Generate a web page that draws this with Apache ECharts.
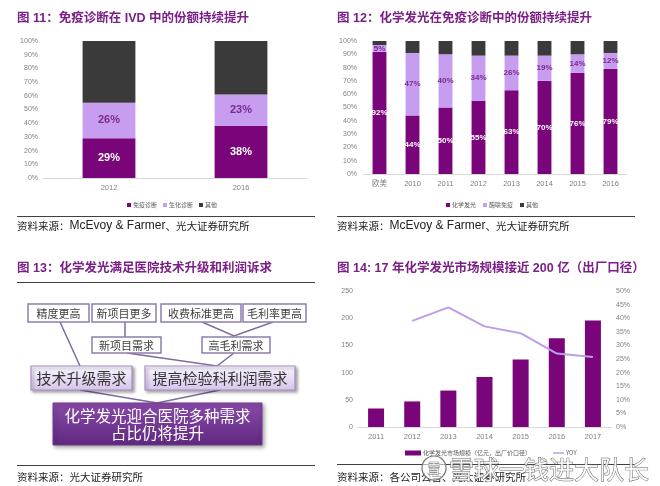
<!DOCTYPE html>
<html><head><meta charset="utf-8">
<script src="https://cdn.jsdelivr.net/npm/echarts@6/dist/echarts.min.js"></script>
<style>html,body{margin:0;padding:0;background:#fff}#c{width:660px;height:486px}</style>
</head><body><div id="c"></div>
<script>
// ---------- data ----------
const titles = ['图 11：免疫诊断在 IVD 中的份额持续提升', '图 12：化学发光在免疫诊断中的份额持续提升', '图 13：化学发光满足医院技术升级和利润诉求', '图 14: 17 年化学发光市场规模接近 200 亿（出厂口径）'];
const p11Categories = ['2012', '2016'];
const p11Names = ['免疫诊断', '生化诊断', '其他'];
const p11Immuno = [29, 38];
const p11Bio = [26, 23];
const p11Other = [45, 39];

const p12Categories = ['欧美', '2010', '2011', '2012', '2013', '2014', '2015', '2016'];
const p12Names = ['化学发光', '酶联免疫', '其他'];
const p12Chemi = [92, 44, 50, 55, 63, 70, 76, 79];
const p12Elisa = [5, 47, 40, 34, 26, 19, 14, 12];
const p12Other = [3, 9, 10, 11, 11, 11, 10, 9];

const p14Years = ['2011', '2012', '2013', '2014', '2015', '2016', '2017'];
const p14BarName = '化学发光市场规模（亿元，出厂价口径）';
const p14LineName = 'YOY';
const p14Size = [34, 47, 67, 92, 124, 163, 196];
const p14Yoy = [null, 39, 44, 37, 34.5, 27, 25.7];

const diagRow1 = ['精度更高', '新项目更多', '收费标准更高', '毛利率更高'];
const diagRow2 = ['新项目需求', '高毛利需求'];
const diagRow3 = ['技术升级需求', '提高检验科利润需求'];
const diagRow4 = ['化学发光迎合医院多种需求', '占比仍将提升'];

const sourceA = ['资料来源：', 'McEvoy & Farmer', '、光大证券研究所'];
const sourceB = '资料来源：光大证券研究所';
const sourceC = '资料来源：各公司公告、光大证券研究所';
const watermark = '雪球一钱进大队长';

// ---------- style ----------
const CN = '"Noto Sans CJK SC", sans-serif';
const LAT = '"Liberation Sans", "Noto Sans CJK SC", sans-serif';
const DARK = '#7A0479';
const LIGHT = '#C79DF0';
const GRAY = '#3A3A3A';
const TITLE = '#7A1F86';
const AX = '#808080';

const chart = echarts.init(document.getElementById('c'), null, {renderer: 'canvas'});

function catAxis(gi, data) {
  return {type: 'category', gridIndex: gi, data: data,
    axisLine: {lineStyle: {color: '#D9D9D9'}}, axisTick: {show: false},
    axisLabel: {color: AX, fontSize: 7.5, margin: 6, fontFamily: LAT}};
}
function pctAxis(gi, margin) {
  return {type: 'value', gridIndex: gi, min: 0, max: 100, interval: 10,
    axisLabel: {formatter: '{value}%', color: AX, fontSize: 7, margin: margin, fontFamily: LAT},
    axisLine: {show: false}, axisTick: {show: false}, splitLine: {show: false}};
}
const lblW = (fs) => ({show: true, position: 'inside', formatter: '{c}%', color: '#fff', fontWeight: 'bold', fontSize: fs, fontFamily: LAT});
const lblP = (fs) => ({show: true, position: 'inside', formatter: '{c}%', color: '#7A2A90', fontWeight: 'bold', fontSize: fs, fontFamily: LAT});

const legText = {fontSize: 6, color: '#595959', fontFamily: CN, padding: [0, 0, 0, -3]};

// ---------- graphics ----------
const g = [];
function text(x, y, t, font, fill, align) {
  g.push({type: 'text', x: x, y: y, style: {text: t, font: font, fill: fill, textAlign: align || 'left', textVerticalAlign: 'middle'}});
}
function hline(x1, x2, y, color) {
  g.push({type: 'line', shape: {x1: x1, y1: y, x2: x2, y2: y}, style: {stroke: color || '#404040', lineWidth: 1}});
}
// titles
text(17, 19, titles[0], 'bold 12.5px ' + LAT, TITLE);
text(337, 19, titles[1], 'bold 12.5px ' + LAT, TITLE);
text(17, 269, titles[2], 'bold 12.5px ' + LAT, TITLE);
text(337, 269, titles[3], 'bold 12.5px ' + LAT, TITLE);
// separators
hline(17, 315, 216.5);
hline(337, 635, 216.5);
hline(17, 315, 282.5);
hline(17, 315, 465.5);
hline(337, 635, 464.5);
// sources
function richSource(x, y) {
  g.push({type: 'text', x: x, y: y, style: {
    text: '{c|' + sourceA[0] + '}{e|' + sourceA[1] + '}{c|' + sourceA[2] + '}',
    textVerticalAlign: 'middle',
    rich: {c: {fontSize: 10.5, fontFamily: CN, fill: '#222'}, e: {fontSize: 12, fontFamily: LAT, fill: '#222'}}
  }});
}
richSource(17, 226);
richSource(337, 226);
text(17, 477, sourceB, '10.5px ' + CN, '#222');
text(337, 477, sourceC, '10.5px ' + CN, '#222');

// diagram (layout of boxes)
const lineCol = '#7E6B9C';
function seg(pts) {
  g.push({type: 'polyline', shape: {points: pts}, style: {stroke: lineCol, lineWidth: 1.5, fill: null}});
}
seg([[60, 322], [80, 366]]);
seg([[125, 322], [125, 337]]);
seg([[202, 322], [234, 336], [273, 322]]);
seg([[127, 353], [217, 366], [234, 353]]);
seg([[80, 390], [157, 403], [220, 390]]);

function box(x, y, w, h, t, opt) {
  g.push({type: 'rect', shape: {x: x, y: y, width: w, height: h},
    style: {fill: opt.fill, stroke: opt.stroke, lineWidth: opt.lw || 1.5,
      shadowBlur: opt.shadow || 0, shadowColor: 'rgba(0,0,0,0.35)', shadowOffsetX: opt.shadow ? 2 : 0, shadowOffsetY: opt.shadow ? 2 : 0}});
  g.push({type: 'text', x: x + w / 2, y: y + h / 2 + 0.5, style: {text: t, font: opt.font, fill: opt.color, textAlign: 'center', textVerticalAlign: 'middle', lineHeight: opt.lh}});
}
const r1x = [28, 92, 161, 243], r1w = [61, 64, 80, 63];
diagRow1.forEach((t, i) => box(r1x[i], 304, r1w[i], 18, t, {fill: '#fff', stroke: '#8F7DAE', font: '11px ' + CN, color: '#404040'}));
const r2x = [92, 202], r2w = [69, 68];
diagRow2.forEach((t, i) => box(r2x[i], 337, r2w[i], 16, t, {fill: '#fff', stroke: '#8F7DAE', font: '11px ' + CN, color: '#404040'}));
const r3x = [31, 145], r3w = [101, 150];
const r3fill = new echarts.graphic.LinearGradient(0, 0, 0, 1, [{offset: 0, color: '#FBF8FE'}, {offset: 1, color: '#D6C3EC'}]);
diagRow3.forEach((t, i) => box(r3x[i], 366, r3w[i], 24, t, {fill: r3fill, stroke: '#A68FC8', lw: 1.2, font: '15px ' + CN, color: '#333', shadow: 3}));
const r4fill = new echarts.graphic.LinearGradient(0, 0, 0, 1, [{offset: 0, color: '#8A4BAA'}, {offset: 1, color: '#5F287F'}]);
box(53, 403, 209, 42, diagRow4.join('\n'), {fill: r4fill, stroke: '#6E3A8E', lw: 1, font: '15.5px ' + CN, color: '#fff', lh: 17, shadow: 4});

// watermark
g.push({type: 'circle', shape: {cx: 434, cy: 468, r: 12}, style: {fill: 'rgba(255,255,255,0.6)', stroke: '#777', lineWidth: 1.2}});
g.push({type: 'text', x: 434, y: 468, style: {text: '雪', font: '13px ' + CN, fill: '#fff', stroke: '#777', lineWidth: 0.8, textAlign: 'center', textVerticalAlign: 'middle'}});
g.push({type: 'text', x: 449, y: 469, style: {text: watermark, font: '25px ' + CN, fill: 'rgba(255,255,255,0.85)', stroke: '#666', lineWidth: 0.9, textVerticalAlign: 'middle'}});

const option = {
  animation: false,
  backgroundColor: '#fff',
  textStyle: {fontFamily: LAT},
  grid: [
    {left: 43, top: 41, width: 264, height: 137},
    {left: 363, top: 41, width: 264, height: 133},
    {left: 358, top: 291, width: 253, height: 136}
  ],
  xAxis: [catAxis(0, p11Categories), catAxis(1, p12Categories), catAxis(2, p14Years)],
  yAxis: [
    pctAxis(0, 5), pctAxis(1, 6),
    {type: 'value', gridIndex: 2, min: 0, max: 250, interval: 50,
      axisLabel: {color: AX, fontSize: 7, margin: 5, fontFamily: LAT},
      axisLine: {show: false}, axisTick: {show: false}, splitLine: {show: false}},
    {type: 'value', gridIndex: 2, position: 'right', min: 0, max: 50, interval: 5,
      axisLabel: {formatter: '{value}%', color: AX, fontSize: 7, margin: 5, fontFamily: LAT},
      axisLine: {show: false}, axisTick: {show: false}, splitLine: {show: false}}
  ],
  legend: [
    {data: p11Names, left: 122, top: 197, icon: 'rect', itemWidth: 4, itemHeight: 4, itemGap: 6, textStyle: legText, selectedMode: false},
    {data: p12Names, left: 441, top: 197, icon: 'rect', itemWidth: 4, itemHeight: 4, itemGap: 7, textStyle: legText, selectedMode: false},
    {data: [p14BarName], left: 400, top: 445, icon: 'rect', itemWidth: 16, itemHeight: 5, textStyle: legText, selectedMode: false},
    {data: [p14LineName], left: 548, top: 445, icon: 'rect', itemWidth: 11, itemHeight: 1.5, textStyle: legText, selectedMode: false}
  ],
  series: [
    {type: 'bar', name: p11Names[0], xAxisIndex: 0, yAxisIndex: 0, stack: 'p11', barWidth: '40%', data: p11Immuno, itemStyle: {color: DARK}, label: lblW(11)},
    {type: 'bar', name: p11Names[1], xAxisIndex: 0, yAxisIndex: 0, stack: 'p11', data: p11Bio, itemStyle: {color: LIGHT}, label: lblP(11)},
    {type: 'bar', name: p11Names[2], xAxisIndex: 0, yAxisIndex: 0, stack: 'p11', data: p11Other, itemStyle: {color: GRAY}},
    {type: 'bar', name: p12Names[0], xAxisIndex: 1, yAxisIndex: 1, stack: 'p12', barWidth: '42%', data: p12Chemi, itemStyle: {color: DARK}, label: lblW(8)},
    {type: 'bar', name: p12Names[1], xAxisIndex: 1, yAxisIndex: 1, stack: 'p12', data: p12Elisa, itemStyle: {color: LIGHT}, label: lblP(8)},
    {type: 'bar', name: p12Names[2], xAxisIndex: 1, yAxisIndex: 1, stack: 'p12', data: p12Other, itemStyle: {color: GRAY}},
    {type: 'bar', name: p14BarName, xAxisIndex: 2, yAxisIndex: 2, barWidth: 16, data: p14Size, itemStyle: {color: DARK}},
    {type: 'line', name: p14LineName, xAxisIndex: 2, yAxisIndex: 3, data: p14Yoy, symbol: 'none', lineStyle: {color: '#BC9EE8', width: 2}, itemStyle: {color: '#BC9EE8'}}
  ],
  graphic: {elements: g}
};
chart.setOption(option);
</script>
</body></html>
